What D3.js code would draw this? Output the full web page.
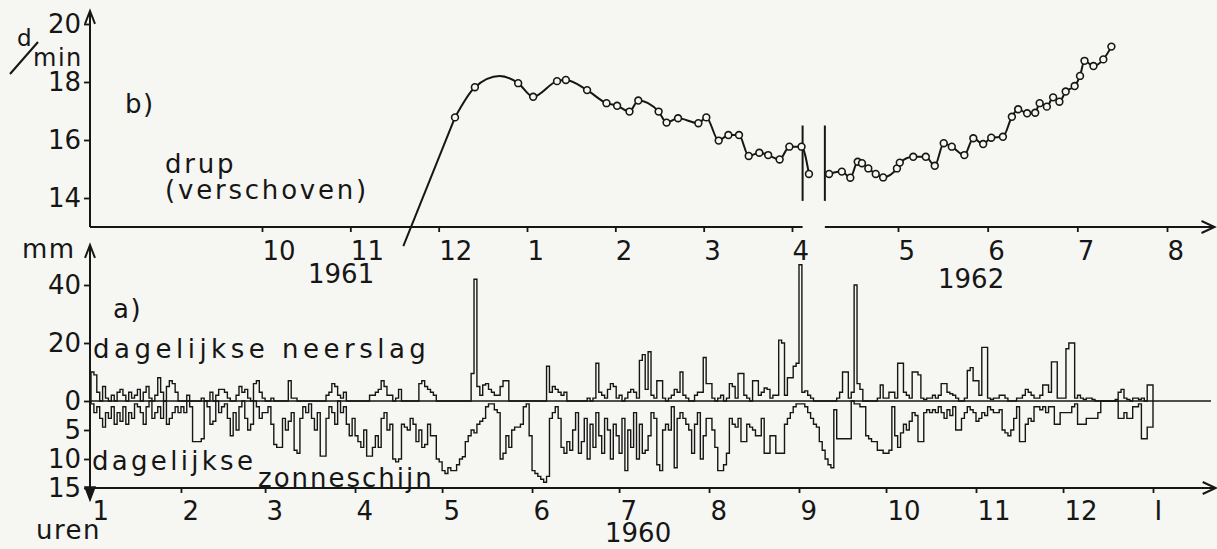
<!DOCTYPE html>
<html>
<head>
<meta charset="utf-8">
<script src="https://cdn.jsdelivr.net/npm/d3@7"></script>
<style>
html, body { margin: 0; padding: 0; background: #f6f6f3; }
svg { display: block; }
text { font-family: "DejaVu Sans", sans-serif; fill: #161616; }
</style>
</head>
<body>
<svg id="chart" width="1217" height="549"></svg>
<script>
// b) drip rate (d/min), shifted; months counted from Jan 1961 (13 = Jan 1962)
// first point is where the line starts below the axis, the 4th is the top of the hump (no circle)
const dripMonth = [11.60, 12.185, 12.41, 12.69, 12.90, 13.07, 13.34, 13.44, 13.68, 13.90, 14.02, 14.16, 14.26, 14.49,
  14.58, 14.71, 14.94, 15.03, 15.17, 15.28, 15.40, 15.51, 15.63, 15.73, 15.86, 15.97, 16.09, 16.16,
  16.35, 16.47, 16.55, 16.62, 16.66, 16.72, 16.79, 16.86, 16.99, 17.02, 17.17, 17.31, 17.41, 17.51,
  17.60, 17.74, 17.84, 17.95, 18.04, 18.17, 18.27, 18.34, 18.44, 18.53, 18.58, 18.66, 18.73, 18.80,
  18.87, 18.97, 19.03, 19.08, 19.18, 19.29, 19.38];
const dripValue = [12.34, 16.78, 17.82, 18.21, 17.96, 17.49, 18.03, 18.07, 17.72, 17.27, 17.18, 16.98, 17.36, 16.98,
  16.60, 16.75, 16.58, 16.78, 15.98, 16.17, 16.17, 15.45, 15.56, 15.48, 15.33, 15.77, 15.77, 14.83,
  14.83, 14.91, 14.70, 15.25, 15.20, 15.02, 14.83, 14.71, 15.02, 15.22, 15.42, 15.42, 15.11, 15.89,
  15.77, 15.48, 16.06, 15.86, 16.08, 16.11, 16.80, 17.06, 16.92, 16.94, 17.27, 17.15, 17.47, 17.32,
  17.67, 17.86, 18.21, 18.73, 18.55, 18.78, 19.22];
const dripNoCircle = [0, 3];
const dripBreak = [16.10, 16.31];          // gap in the time axis
const breakMarkRange = [13.9, 16.5];       // vertical break strokes (d/min)
const topTickMonths = [10, 11, 12, 13, 14, 15, 16, 17, 18, 19, 20];
const topTickLabels = ["10", "11", "12", "1", "2", "3", "4", "5", "6", "7", "8"];
const dripTicks = [14, 16, 18, 20];

// a) daily precipitation (mm) and daily sunshine (hours), 1960
const rainByMonth = [
  [10,9,3,0,5,1,0,2,0,3,4,2,0,3,1,2,4,0,3,5,1,0,2,8,3,0,5,7,6,3,0],
  [0,0,2,0,0,0,0,1,0,0,3,0,2,4,4,3,1,0,0,2,5,3,4,1,0,6,7,3,1],
  [0,0,1,0,0,0,0,0,7,1,1,0,0,0,0,0,0,0,0,0,0,2,3,6,5,2,1,3,0,0,0],
  [0,0,0,0,0,2,2,3,4,7,5,2,2,0,1,4,0,0,0,0,0,0,6,7,5,4,3,2,0,0],
  [0,0,0,0,0,0,0,0,0,0,9.5,42,5,2,5.5,6,4,3,2,2,5,7,7,0,0,0,0,0,0,0,0],
  [0,0,0,0,0,12,3,5,4,3,2,3,0,0,0,0,0,0,0,1,0,1,13,3,2,1,4,6,5,1],
  [2,0,1,3,4,3,1,14,16,4,17,2,1,7,7,1,0,1,2,4,3,10,2,1,0,0,2,3,3,15,6],
  [6,1,0,1,2,0,1,6,5,1,9.5,9.5,2,1,0,7,7,2,3,4.5,4,1,2,2,21,20,2,8,8,12,13],
  [47,3,3.5,2,1,0,0,0,0,0,0,0,0,1,3,10,10,1,3,40,6,4,0,0,0,0,0,1,5.5,1],
  [1,3,3,1,13,13,3,2,1,10,10,9,1,0.5,1,1,2,1,2,6,6,3,2.5,2,1,0,0,1,10.5,11.5,7],
  [7,2,18.5,18.5,1,0.5,1,1,2,2,1,0,0,0,1,1,2,4,3,2,1,1,2,5.5,5.5,3,13.5,13.5,1,1],
  [1,18,20,20,1,2,1,0.5,1,1,0.5,0,0,0,0,0,0,0,0.5,3,4,1,0.5,0,1,1,0.5,1,0,5.5,5.5]
];
const sunByMonth = [
  [0.5,2,1,3,4.5,2,3,1,4,2,3.5,1,4,2,3,0.5,1,2,4,1,0,3,2,1,3,0,4,3,2,1,2],
  [1,2,0,1,7,7,7,6.5,0,1,4,3.5,0,2,1,0.5,3,6,2,5,1,0,3,5,4,0,1,3,2],
  [2,1,4,7.5,8,8,3,5,3.5,2,8.5,9,3,1,2,0.5,3,5,2,9.5,9.5,3,1,2,4,0,2,1,4,6,3],
  [6,7,8,5,9.5,9.5,8,6,8,3,2,5,4,10,10.5,10,4,4.5,5,3,4,7,5,8,7.5,4,6,6,10,10.5],
  [12,12.5,11.5,12,12,11,10,9.6,7,6,5,5.5,4,3.5,3,1,0.5,0.5,1.5,2,10,9,6,8,5,4.5,4.5,4,1,0.5,6],
  [12,12.5,13,13.5,14,13,3,2,1,3,8,9,7,8.5,5,2,9,7,3,10,4,8,2,6,9,3,5,10,4,6],
  [9,3,12,5,8,2,10,4,9,8.5,6,2,3,11,12,5,4,5,1,11.5,3,2,3,4,5,9,4,2,10,6,3],
  [3,5,8,12,12,11,9,3,4,4.5,3,7,7,4,4.5,5,6,6,3,9,9,6,6,9,9,9,4,3,2,1,0.5],
  [0.5,0.5,1,2,3,4,4.5,7,8.5,10,11,11.5,1.5,6.5,6.5,6.5,6.5,6.5,0,0.5,0.5,1,1,6,6.5,7,7,8.5,8.5,9],
  [9,8.5,1,6,8,5.5,4,5,3.5,2,2.5,7,7,2,1.5,2,1.5,2,1,2,3,1.5,2.5,1,5,5,3,2,1,1.5,2],
  [3.5,3,2,2.5,1,1.5,2,2,1.5,5,5.5,6,5,3,1,7,7,4,3,3.5,1,1,1.5,1,2,1,1,4,4,2],
  [2,2,2,1,0.5,4,4,4,3,3,3,3,2,0,0,0,0,0,0,3,3,2,3,3,1,1,0.5,6.5,6.5,4.5,4.5]
];
const bottomTickLabels = ["1", "2", "3", "4", "5", "6", "7", "8", "9", "10", "11", "12", "I"];
const rainTicks = [0, 20, 40];
const sunTicks = [5, 10, 15];

const rain = rainByMonth.flat();
const sun = sunByMonth.flat();
const monthStart = [0];
rainByMonth.forEach(m => monthStart.push(monthStart[monthStart.length - 1] + m.length));

const svg = d3.select("#chart");
const ink = "#161616";
const fs = 26;
const axisX = 90;

// scales
const topX = d3.scaleLinear().domain([10, 16, 17, 20]).range([262, 792, 898, 1167]);
const topY = d3.scaleLinear().domain([13, 20]).range([227, 24]);
const botX = d3.scaleLinear().domain([0, 366]).range([91, 1153]);
const rainY = d3.scaleLinear().domain([0, 40]).range([401, 285]);
const sunY = d3.scaleLinear().domain([0, 15]).range([401, 488]);

function arrowUp(x, y) {
  svg.append("path").attr("d", `M${x - 5},${y + 13}L${x},${y}L${x + 5},${y + 13}`)
    .attr("fill", "none").attr("stroke", ink).attr("stroke-width", 2);
}
function arrowRight(x, y) {
  svg.append("path").attr("d", `M${x - 13},${y - 6}L${x},${y}L${x - 13},${y + 6}`)
    .attr("fill", "none").attr("stroke", ink).attr("stroke-width", 2);
}
function hline(x1, x2, y, w) {
  svg.append("line").attr("x1", x1).attr("x2", x2).attr("y1", y).attr("y2", y)
    .attr("stroke", ink).attr("stroke-width", w || 2);
}
function vline(x, y1, y2, w) {
  svg.append("line").attr("x1", x).attr("x2", x).attr("y1", y1).attr("y2", y2)
    .attr("stroke", ink).attr("stroke-width", w || 2);
}
function label(txt, x, y, size, ls) {
  return svg.append("text").attr("x", x).attr("y", y).style("font-size", (size || fs) + "px")
    .style("letter-spacing", (ls == null ? 1.5 : ls) + "px").text(txt);
}
function styleAxis(g) {
  g.select(".domain").remove();
  g.selectAll(".tick line").attr("stroke", ink).attr("stroke-width", 1.8);
  g.selectAll(".tick text").style("font-size", fs + "px").style("fill", ink)
    .style("font-family", "DejaVu Sans, sans-serif");
}
const intFmt = d3.format("d");

// ---------- top panel (b) ----------
svg.append("g").attr("transform", `translate(${axisX},0)`)
  .call(d3.axisLeft(topY).tickValues(dripTicks).tickFormat(intFmt).tickSize(6).tickPadding(3))
  .call(styleAxis);
vline(axisX, topY(13), topY(20.45));
arrowUp(axisX, topY(20.45));

const topAxisY = topY(13);
hline(axisX, topX(dripBreak[0]), topAxisY);
hline(topX(dripBreak[1]), topX(20.53), topAxisY);
arrowRight(topX(20.53), topAxisY);
svg.append("g").attr("transform", `translate(0,${topAxisY})`)
  .call(d3.axisBottom(topX).tickValues(topTickMonths).tickFormat((d, i) => topTickLabels[i])
    .tickSize(5).tickPadding(10))
  .call(styleAxis)
  .call(g => g.selectAll(".tick text").attr("text-anchor", "start").attr("x", 0));

// break strokes
dripBreak.forEach(m => vline(topX(m), topY(breakMarkRange[1]), topY(breakMarkRange[0]), 2));

const dripPts = dripMonth.map((m, i) => ({ m: m, v: dripValue[i], i: i }));
// straight rise from below the axis, then a smooth curve through the readings
const segRise = dripPts.slice(0, 2);
const segA = dripPts.filter(d => d.i >= 1 && d.m < 16.25);
const segB = dripPts.filter(d => d.m >= 16.25);
const dripLine = d3.line().x(d => topX(d.m)).y(d => topY(d.v)).curve(d3.curveMonotoneX);
const riseLine = d3.line().x(d => topX(d.m)).y(d => topY(d.v));
svg.append("path").datum(segRise).attr("d", riseLine)
  .attr("fill", "none").attr("stroke", ink).attr("stroke-width", 2);
[segA, segB].forEach(seg => {
  svg.append("path").datum(seg).attr("d", dripLine)
    .attr("fill", "none").attr("stroke", ink).attr("stroke-width", 2);
});
svg.append("g").selectAll("circle")
  .data(dripPts.filter(d => dripNoCircle.indexOf(d.i) < 0))
  .enter().append("circle")
  .attr("cx", d => topX(d.m)).attr("cy", d => topY(d.v)).attr("r", 3.4)
  .attr("fill", "#f6f6f3").attr("stroke", ink).attr("stroke-width", 1.6);

// unit and texts
label("d", 17, 46, 23, 0);
svg.append("line").attr("x1", 10).attr("y1", 74).attr("x2", 38).attr("y2", 42)
  .attr("stroke", ink).attr("stroke-width", 2);
label("min", 33, 66, 24, 1.5);
label("b)", 125, 113);
label("drup", 165, 173, fs, 2.8);
label("(verschoven)", 165, 199, fs, 2.8);
label("1961", 308, 283, fs, 0);
label("1962", 938, 288, fs, 0);

// ---------- bottom panel (a) ----------
svg.append("g").attr("transform", `translate(${axisX},0)`)
  .call(d3.axisLeft(rainY).tickValues(rainTicks).tickFormat(intFmt).tickSize(6).tickPadding(3))
  .call(styleAxis);
svg.append("g").attr("transform", `translate(${axisX},0)`)
  .call(d3.axisLeft(sunY).tickValues(sunTicks).tickFormat(intFmt).tickSize(6).tickPadding(3))
  .call(styleAxis);
vline(axisX, rainY(53.8), sunY(17.1));
arrowUp(axisX, rainY(53.8));
svg.append("path").attr("d", `M${axisX - 5},${sunY(15) - 1}L${axisX},${sunY(17.1)}L${axisX + 5},${sunY(15) - 1}Z`)
  .attr("fill", ink).attr("stroke", ink).attr("stroke-width", 1.5);

hline(axisX, botX(386), rainY(0), 1.3);
const botAxisY = sunY(15);
hline(axisX, botX(387.6), botAxisY);
arrowRight(botX(387.6), botAxisY);
svg.append("g").attr("transform", `translate(0,${botAxisY})`)
  .call(d3.axisBottom(botX).tickValues(monthStart).tickFormat((d, i) => bottomTickLabels[i])
    .tickSize(5).tickPadding(9))
  .call(styleAxis)
  .call(g => g.selectAll(".tick text").attr("text-anchor", "start").attr("x", 1));

// step histograms
const rainPts = [[0, 0]].concat(rain.map((v, i) => [i, v]), [[rain.length, 0]]);
const sunPts = [[0, 0]].concat(sun.map((v, i) => [i, v]), [[sun.length, 0]]);
svg.append("path").datum(rainPts)
  .attr("d", d3.line().x(d => botX(d[0])).y(d => rainY(d[1])).curve(d3.curveStepAfter))
  .attr("fill", "none").attr("stroke", ink).attr("stroke-width", 1.4);
svg.append("path").datum(sunPts)
  .attr("d", d3.line().x(d => botX(d[0])).y(d => sunY(d[1])).curve(d3.curveStepAfter))
  .attr("fill", "none").attr("stroke", ink).attr("stroke-width", 1.4);

label("mm", 22, 258);
label("a)", 113, 318);
label("dagelijkse neerslag", 93, 358, fs, 4.5);
label("dagelijkse", 92, 470, fs, 3.3);
label("zonneschijn", 258, 487, fs, 2);
label("uren", 36, 539);
label("1960", 605, 542, fs, 0);
</script>
</body>
</html>
